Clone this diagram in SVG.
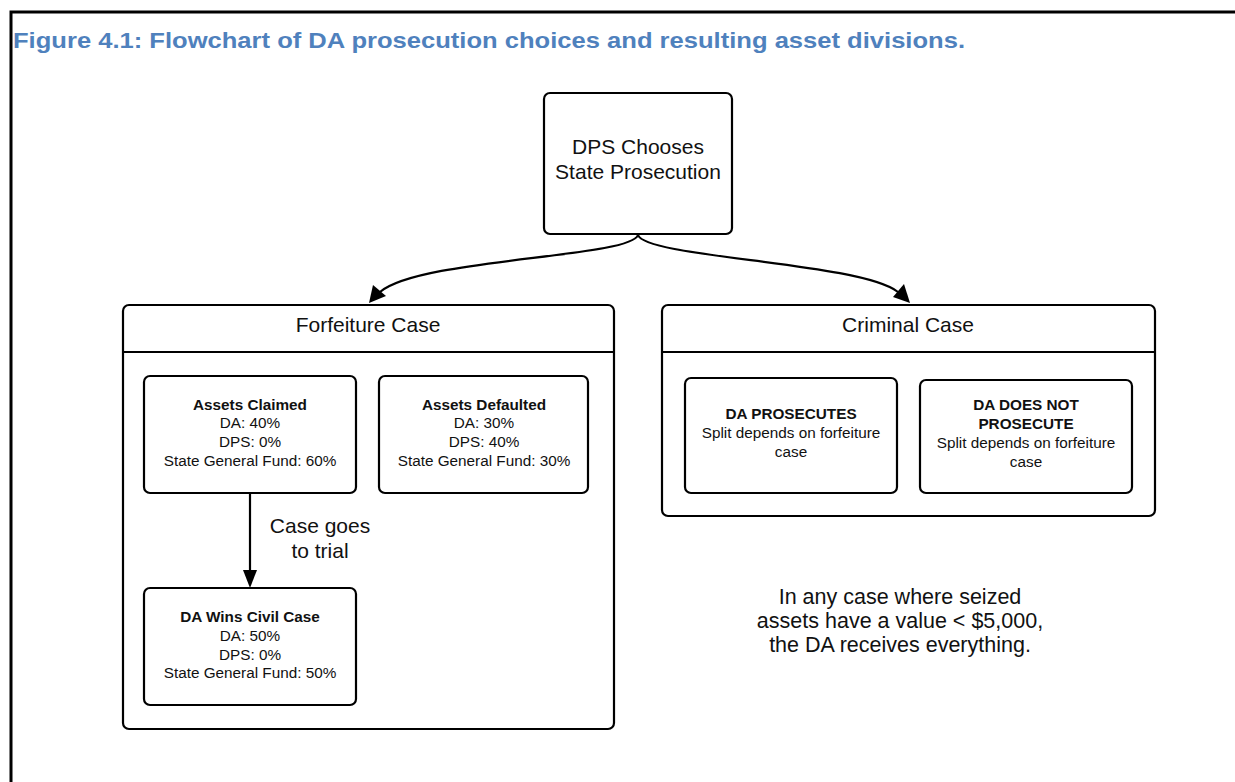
<svg xmlns="http://www.w3.org/2000/svg" width="1235" height="782" viewBox="0 0 1235 782">
<style>
.box{fill:#fff;stroke:#000;stroke-width:2.2}
.t{font-family:"Liberation Sans",Arial,sans-serif;fill:#111;text-anchor:middle}
.big{font-size:21px}
.note{font-size:21.5px}
.sm{font-size:15.3px}
.b{font-weight:bold}
.edge{fill:none;stroke:#000;stroke-width:2.2}
</style>
<rect width="1235" height="782" fill="#fff"/>
<path d="M11,782 V12 H1235" fill="none" stroke="#000" stroke-width="3"/>
<text x="13" y="48" font-family="'Liberation Sans',Arial,sans-serif" font-weight="bold" font-size="22.5" fill="#4F81BD" textLength="952" lengthAdjust="spacingAndGlyphs">Figure 4.1: Flowchart of DA prosecution choices and resulting asset divisions.</text>

<g id="dps">
<rect class="box" x="544" y="93" width="188" height="141" rx="6"/>
<text class="t big" x="638" y="154">DPS Chooses</text>
<text class="t big" x="638" y="179">State Prosecution</text>
</g>

<g id="forfeiture">
<rect class="box" x="123" y="305" width="491" height="424" rx="6"/>
<line x1="123" y1="352" x2="614" y2="352" stroke="#000" stroke-width="2.2"/>
<text class="t big" x="368" y="332">Forfeiture Case</text>
</g>

<g id="claimed">
<rect class="box" x="144" y="376" width="212" height="117" rx="6"/>
<text class="t sm b" x="250" y="410">Assets Claimed</text>
<text class="t sm" x="250" y="428">DA: 40%</text>
<text class="t sm" x="250" y="447">DPS: 0%</text>
<text class="t sm" x="250" y="466">State General Fund: 60%</text>
</g>

<g id="defaulted">
<rect class="box" x="379" y="376" width="209" height="117" rx="6"/>
<text class="t sm b" x="484" y="410">Assets Defaulted</text>
<text class="t sm" x="484" y="428">DA: 30%</text>
<text class="t sm" x="484" y="447">DPS: 40%</text>
<text class="t sm" x="484" y="466">State General Fund: 30%</text>
</g>

<g id="civil">
<rect class="box" x="144" y="588" width="212" height="117" rx="6"/>
<text class="t sm b" x="250" y="622">DA Wins Civil Case</text>
<text class="t sm" x="250" y="641">DA: 50%</text>
<text class="t sm" x="250" y="660">DPS: 0%</text>
<text class="t sm" x="250" y="678">State General Fund: 50%</text>
</g>

<g id="criminal">
<rect class="box" x="662" y="305" width="493" height="211" rx="6"/>
<line x1="662" y1="352" x2="1155" y2="352" stroke="#000" stroke-width="2.2"/>
<text class="t big" x="908" y="332">Criminal Case</text>
</g>

<g id="prosecutes">
<rect class="box" x="685" y="378" width="212" height="115" rx="6"/>
<text class="t sm b" x="791" y="419">DA PROSECUTES</text>
<text class="t sm" x="791" y="438">Split depends on forfeiture</text>
<text class="t sm" x="791" y="457">case</text>
</g>

<g id="notprosecute">
<rect class="box" x="920" y="380" width="212" height="113" rx="6"/>
<text class="t sm b" x="1026" y="410">DA DOES NOT</text>
<text class="t sm b" x="1026" y="429">PROSECUTE</text>
<text class="t sm" x="1026" y="448">Split depends on forfeiture</text>
<text class="t sm" x="1026" y="467">case</text>
</g>

<g id="note">
<text class="t note" x="900" y="604">In any case where seized</text>
<text class="t note" x="900" y="628">assets have a value &lt; $5,000,</text>
<text class="t note" x="900" y="652">the DA receives everything.</text>
</g>

<g id="connectors">
<path class="edge" d="M638,235 C630,258 420,258 380,292" />
<path d="M369,303 L373,285 L386,296 Z" fill="#000"/>
<path class="edge" d="M638,235 C646,258 860,262 898,292" />
<path d="M910,303 L893,297 L904,284 Z" fill="#000"/>
<path class="edge" d="M250,493 V572" />
<path d="M250,588 L243,570 L257,570 Z" fill="#000"/>
<text class="t big" x="320" y="533">Case goes</text>
<text class="t big" x="320" y="558">to trial</text>
</g>
</svg>
